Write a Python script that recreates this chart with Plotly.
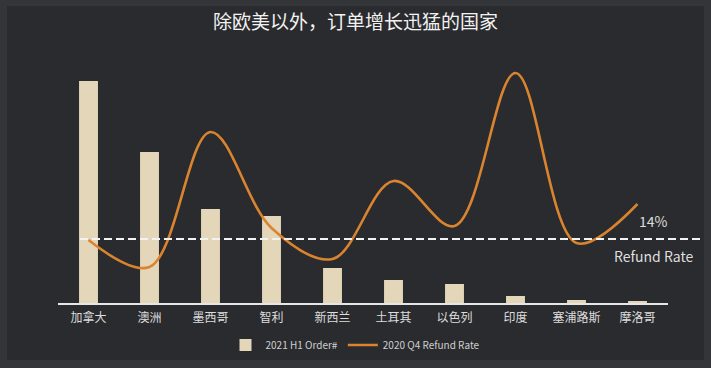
import plotly.graph_objects as go

categories = ["加拿大", "澳洲", "墨西哥", "智利", "新西兰", "土耳其", "以色列", "印度", "塞浦路斯", "摩洛哥"]
orders_2021_h1 = [22200, 15100, 9400, 8700, 3500, 2300, 1900, 700, 300, 200]
refund_rate_2020_q4 = [13.9, 11.2, 24.7, 15.1, 12.0, 19.8, 15.3, 30.6, 13.6, 17.5]
benchmark_rate = 14

W, H = 711, 368
ML, MR, MT, MB = 58, 43, 60, 65
plot_h = H - MT - MB
plot_w = W - ML - MR


def px_x(p):
    return (p - ML) / plot_w


def px_y(p):
    return (H - MB - p) / plot_h


FONT = "Noto Sans CJK SC, Noto Sans, sans-serif"

fig = go.Figure()
fig.add_trace(go.Bar(
    x=categories, y=orders_2021_h1, name="2021 H1 Order#",
    marker=dict(color="#e3d6b9", line=dict(width=0)), width=0.31,
))
fig.add_trace(go.Scatter(
    x=categories, y=refund_rate_2020_q4, name="2020 Q4 Refund Rate", yaxis="y2",
    mode="lines", line=dict(color="#da842f", width=2.6, shape="spline", smoothing=1.0),
))

shapes = [
    dict(type="rect", xref="paper", yref="paper", layer="below",
         x0=px_x(7), x1=px_x(704), y0=px_y(360), y1=px_y(6),
         fillcolor="#2a2b2e", line=dict(width=0)),
    dict(type="line", xref="paper", yref="y2", x0=px_x(80), x1=px_x(701),
         y0=benchmark_rate, y1=benchmark_rate,
         line=dict(color="#f2f2f2", width=2, dash="8px,4px")),
]

annotations = [
    dict(text=f"{benchmark_rate}%", xref="paper", yref="paper", x=px_x(653), y=px_y(221),
         showarrow=False, font=dict(family=FONT, size=14, color="#dedede"),
         xanchor="center", yanchor="middle"),
    dict(text="Refund Rate", xref="paper", yref="paper", x=px_x(653), y=px_y(256),
         showarrow=False, font=dict(family=FONT, size=14, color="#dedede"),
         xanchor="center", yanchor="middle"),
]

fig.update_layout(
    width=W, height=H,
    margin=dict(l=ML, r=MR, t=MT, b=MB, autoexpand=False),
    paper_bgcolor="#333538", plot_bgcolor="rgba(0,0,0,0)",
    title=dict(text="除欧美以外，订单增长迅猛的国家", x=0.5, xanchor="center",
               y=1 - 22 / H, yanchor="middle",
               font=dict(family=FONT, size=19, color="#f2f2f2")),
    xaxis=dict(showgrid=False, zeroline=False, showline=True, linecolor="#e6e6e6", linewidth=1.5,
               ticks="outside", ticklen=3, tickcolor="rgba(0,0,0,0)",
               tickfont=dict(family=FONT, size=12, color="#dddddd"),
               range=[-0.5, 9.5], automargin=False),
    yaxis=dict(visible=False, range=[0, 24300], showgrid=False, zeroline=False),
    yaxis2=dict(visible=False, overlaying="y", range=[7.6, 31.9], showgrid=False, zeroline=False),
    showlegend=True,
    legend=dict(orientation="h", xref="container", x=0.5, xanchor="center",
                yref="container", y=1 - 345 / H, yanchor="middle",
                font=dict(family=FONT, size=10, color="#cfcfcf"),
                bgcolor="rgba(0,0,0,0)", itemwidth=30, traceorder="normal"),
    shapes=shapes, annotations=annotations,
    bargap=0.69,
)

fig.write_html("out.html", config={"displayModeBar": False},
               post_script="document.body.style.margin='0';document.body.style.overflow='hidden';")
